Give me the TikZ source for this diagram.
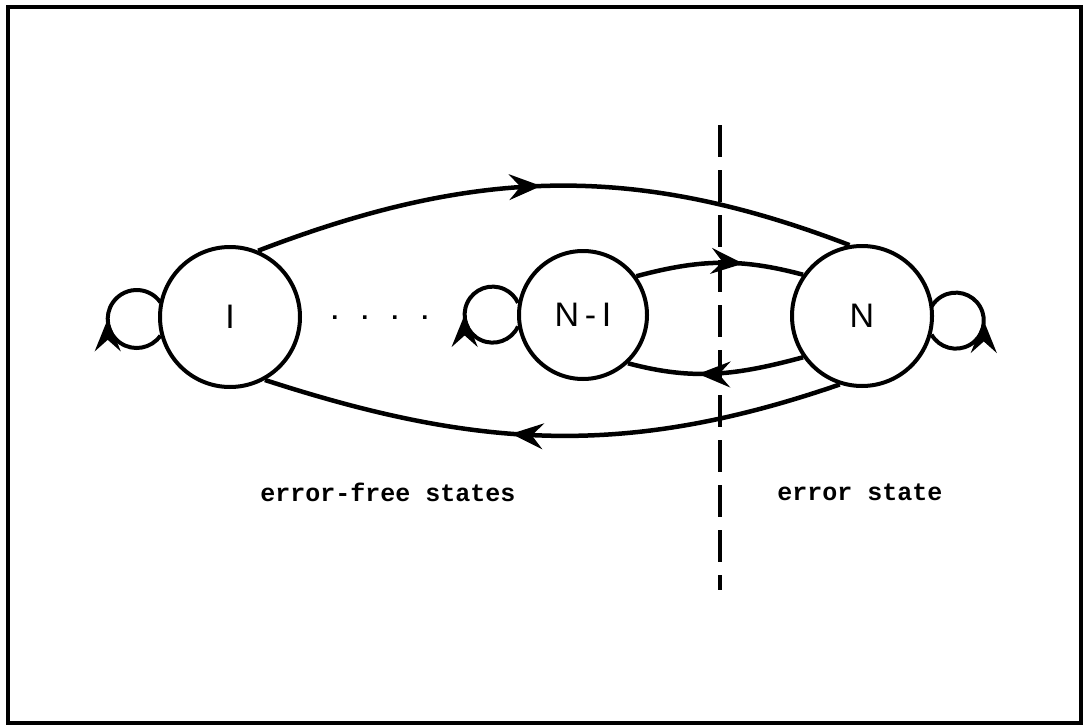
\documentclass[tikz,border=0pt]{standalone}
\usepackage{fontspec}
\setmonofont{Liberation Mono}
\setsansfont{Liberation Sans}
\usetikzlibrary{arrows.meta,decorations.markings}
\tikzset{
  state/.style={draw,circle,line width=4pt,inner sep=0pt,
    font=\sffamily\fontsize{34}{34}\selectfont},
  midarrow/.style={postaction={decorate},decoration={markings,
    mark=at position #1 with {\arrow[scale=1.6]{Stealth[length=20pt,width=16pt,inset=7pt]}}}},
  trans/.style={line width=4.5pt,midarrow=#1},
  selfloop/.style={line width=4pt,midarrow=0.5},
  region/.style={font=\ttfamily\bfseries\fontsize{25}{25}\selectfont}
}
\begin{document}
\begin{tikzpicture}[x=1pt,y=1pt]
\useasboundingbox (0,0) rectangle (1084,-725);
\draw[line width=4pt] (8,-7) rectangle (1081,-723);
% states
\node[state,minimum size=140pt] (one) at (230,-317) {I};
\node[state,minimum size=128pt] (nminus) at (583,-315) {N\,-\,I};
\node[state,minimum size=140pt] (nlast) at (862,-316) {N};
\node[region] (dots) at (380,-318) {. . . .};
% boundary between the two groups
\draw[line width=3.5pt,dash pattern=on 32pt off 13pt] (720,-125) -- (720,-590);
% transitions
\draw[trans=0.48] (one.67) to[out=21,in=159] (nlast.100);
\draw[trans=0.57] (nlast.-108) to[out=199,in=-18] (one.-61);
\draw[trans=0.64] (nminus.36) to[out=15,in=165] (nlast.145);
\draw[trans=0.6] (nlast.215) to[out=195,in=-15] (nminus.-47);
% self loops
\draw[selfloop] (one.195) arc[start angle=-35,end angle=-325,radius=29];
\draw[selfloop] (nminus.190) arc[start angle=-25,end angle=-335,radius=28];
\draw[selfloop] (nlast.-15) arc[start angle=-150,end angle=150,radius=28];
% labels
\node[region] (freelabel) at (388,-492) {error-free states};
\node[region] (errlabel) at (860,-492) {error state};
\end{tikzpicture}
\end{document}
